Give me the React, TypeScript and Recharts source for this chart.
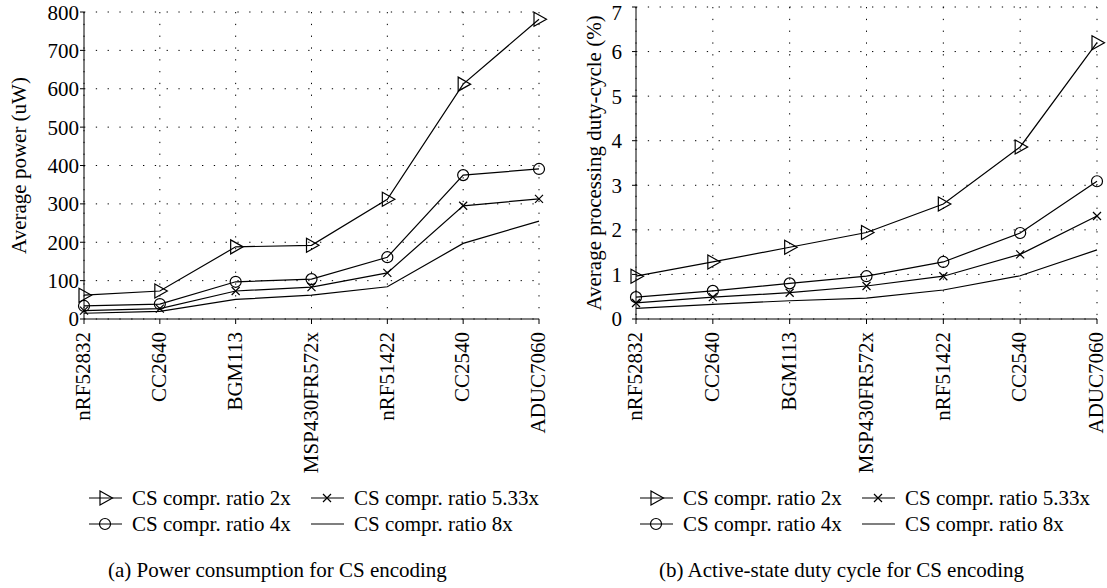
import { LineChart, Line, XAxis, YAxis, CartesianGrid, Legend } from "recharts";

const devices = ["nRF52832", "CC2640", "BGM113", "MSP430FR572x", "nRF51422", "CC2540", "ADUC7060"];
const seriesNames = ["CS compr. ratio 2x", "CS compr. ratio 4x", "CS compr. ratio 5.33x", "CS compr. ratio 8x"];

// (a) average power, uW
const power2x = [62, 73, 188, 192, 312, 612, 781];
const power4x = [34, 39, 97, 104, 161, 375, 391];
const power533x = [22, 27, 73, 83, 120, 295, 313];
const power8x = [15, 20, 51, 62, 84, 197, 255];
const powerTicks = [0, 100, 200, 300, 400, 500, 600, 700, 800];

// (b) processing duty cycle, %
const duty2x = [0.96, 1.28, 1.61, 1.94, 2.58, 3.86, 6.2];
const duty4x = [0.49, 0.63, 0.8, 0.96, 1.28, 1.93, 3.09];
const duty533x = [0.36, 0.49, 0.59, 0.74, 0.96, 1.45, 2.31];
const duty8x = [0.24, 0.33, 0.41, 0.47, 0.65, 0.97, 1.55];
const dutyTicks = [0, 1, 2, 3, 4, 5, 6, 7];

const FONT = "'Liberation Serif', 'DejaVu Serif', serif";
const FS = 21;

const build = (a: number[], b: number[], c: number[], d: number[]) =>
  devices.map((name, i) => ({ name, s2: a[i], s4: b[i], s533: c[i], s8: d[i] }));

const powerData = build(power2x, power4x, power533x, power8x);
const dutyData = build(duty2x, duty4x, duty533x, duty8x);

const Tri = ({ cx, cy }: any) => (
  <path d={`M${cx - 5},${cy - 7}L${cx + 7.5},${cy}L${cx - 5},${cy + 7}Z`} fill="none" stroke="#000" strokeWidth={1.2} />
);
const Circ = ({ cx, cy }: any) => <circle cx={cx} cy={cy} r={5.5} fill="none" stroke="#000" strokeWidth={1.2} />;
const Cross = ({ cx, cy }: any) => (
  <path d={`M${cx - 4},${cy - 4}L${cx + 4},${cy + 4}M${cx - 4},${cy + 4}L${cx + 4},${cy - 4}`} stroke="#000" strokeWidth={1.2} />
);
const markers = [Tri, Circ, Cross, null];

const XTick = ({ x, y, payload }: any) => (
  <g transform={`translate(${x},${y})`}>
    <text transform="rotate(-90)" textAnchor="end" dy="0.3em" fontSize={FS} fontFamily={FONT} fill="#000">
      {payload.value}
    </text>
  </g>
);

const Symbol = ({ idx }: { idx: number }) => {
  const M = markers[idx];
  return (
    <svg width={36} height={26} style={{ position: "absolute", left: 0, top: 0 }}>
      <line x1={1} y1={13} x2={34} y2={13} stroke="#000" strokeWidth={1.2} />
      {M ? <M cx={17} cy={13} /> : null}
    </svg>
  );
};

const legendBox = (caption: string, shift: number) => () => {
  const items = [
    { idx: 0, left: 88, row: 0 },
    { idx: 2, left: 310, row: 0 },
    { idx: 1, left: 88, row: 1 },
    { idx: 3, left: 310, row: 1 }
  ];
  return (
    <div style={{ position: "relative", width: 553, height: 100, fontFamily: FONT, fontSize: FS, color: "#000" }}>
      {items.map((it) => (
        <div key={it.idx} style={{ position: "absolute", left: it.left + shift, top: it.row * 26, height: 26 }}>
          <Symbol idx={it.idx} />
          <span style={{ position: "absolute", left: 44, top: 0, lineHeight: "26px", whiteSpace: "nowrap" }}>
            {seriesNames[it.idx]}
          </span>
        </div>
      ))}
      <div style={{ position: "absolute", left: 108 + shift, top: 72, whiteSpace: "nowrap", lineHeight: "26px" }}>{caption}</div>
    </div>
  );
};

type PanelProps = {
  data: any[];
  ticks: number[];
  yLabel: string;
  caption: string;
  yWidth: number;
  top: number;
  right: number;
  width: number;
  labelOffset: number;
  tickGap: number;
  shift: number;
};

function Panel(p: PanelProps) {
  const max = p.ticks[p.ticks.length - 1];
  const keys = ["s2", "s4", "s533", "s8"];
  return (
    <LineChart
      width={p.width}
      height={588}
      data={p.data}
      margin={{ top: p.top, right: p.right, left: 0, bottom: 159 }}
      style={{ overflow: "visible" }}
    >
      <CartesianGrid stroke="#000" strokeDasharray="1.3 10.5" strokeWidth={1} />
      <XAxis dataKey="name" stroke="#000" tickSize={5} tickMargin={8} height={110} interval={0} tick={<XTick />} />
      <XAxis xAxisId="top" orientation="top" dataKey="name" tick={false} tickLine={false} height={0} stroke="#000" />
      <YAxis
        domain={[0, max]}
        ticks={p.ticks}
        width={p.yWidth}
        stroke="#000"
        tickSize={4}
        tickMargin={p.tickGap}
        tick={{ fill: "#000", fontSize: FS, fontFamily: FONT }}
        label={{
          value: p.yLabel,
          angle: -90,
          position: "insideLeft",
          offset: p.labelOffset,
          style: { textAnchor: "middle", fontSize: FS, fontFamily: FONT, fill: "#000" }
        }}
      />
      <YAxis yAxisId="right" orientation="right" tick={false} tickLine={false} width={0} stroke="#000" />
      {keys.map((k, i) => {
        const M = markers[i];
        return (
          <Line
            key={k}
            dataKey={k}
            name={seriesNames[i]}
            stroke="#000"
            strokeWidth={1.2}
            isAnimationActive={false}
            dot={M ? (d: any) => <M key={d.key ?? d.index} cx={d.cx} cy={d.cy} /> : false}
            activeDot={false}
          />
        );
      })}
      <Legend
        layout="horizontal"
        align="center"
        verticalAlign="middle"
        content={legendBox(p.caption, p.shift)}
        wrapperStyle={{ left: 0, top: 485, width: 553 }}
      />
    </LineChart>
  );
}

export default function App() {
  return (
    <div style={{ position: "absolute", left: 0, top: 0, width: 1107, height: 588, background: "#fff", overflow: "hidden" }}>
      <div style={{ position: "absolute", left: 0, top: 0 }}>
        <Panel
          data={powerData}
          ticks={powerTicks}
          yLabel="Average power (uW)"
          caption="(a) Power consumption for CS encoding"
          yWidth={84}
          top={12}
          right={14}
          width={553}
          labelOffset={19}
          tickGap={1}
          shift={0}
        />
      </div>
      <div style={{ position: "absolute", left: 553, top: 0 }}>
        <Panel
          data={dutyData}
          ticks={dutyTicks}
          yLabel="Average processing duty-cycle (%)"
          caption="(b) Active-state duty cycle for CS encoding"
          yWidth={83}
          top={7}
          right={10}
          width={554}
          labelOffset={41}
          tickGap={10}
          shift={-2}
        />
      </div>
    </div>
  );
}
